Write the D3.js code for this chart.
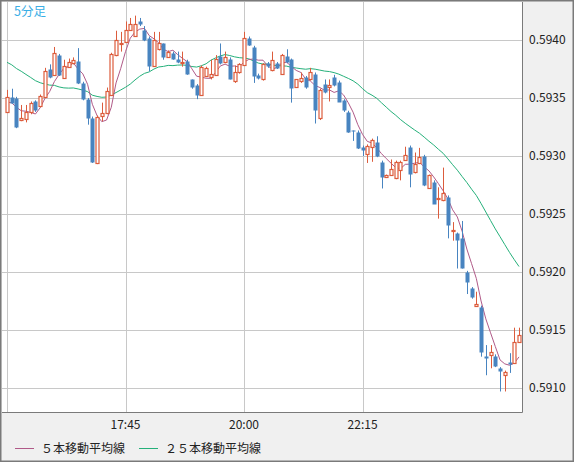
<!DOCTYPE html>
<html>
<head>
<meta charset="utf-8">
<script src="https://cdn.jsdelivr.net/npm/d3@7"></script>
<style>
  body { margin: 0; background: #f0f0f0; }
  svg { display: block; }
  text { font-family: "Noto Sans CJK JP", "DejaVu Sans", sans-serif; }
</style>
</head>
<body>
<div id="chart"></div>
<script>
// 5分足 OHLC
const opens = [0.59338,0.59351,0.59350,0.59331,0.59332,0.59338,0.59347,0.59343,0.59351,0.59375,
  0.59370,0.59387,0.59368,0.59377,0.59380,0.59382,0.59363,0.59349,0.59333,0.59294,
  0.59334,0.59337,0.59353,0.59387,0.59396,0.59399,0.59409,0.59404,0.59416,0.59409,
  0.59402,0.59378,0.59392,0.59397,0.59386,0.59389,0.59384,0.59380,0.59382,0.59366,
  0.59361,0.59353,0.59369,0.59368,0.59370,0.59386,0.59381,0.59384,0.59364,0.59372,
  0.59379,0.59402,0.59394,0.59370,0.59366,0.59380,0.59374,0.59380,0.59371,0.59386,
  0.59384,0.59359,0.59364,0.59368,0.59366,0.59371,0.59333,0.59362,0.59359,0.59368,
  0.59364,0.59348,0.59338,0.59322,0.59321,0.59308,0.59302,0.59308,0.59312,0.59295,
  0.59282,0.59284,0.59281,0.59288,0.59297,0.59308,0.59286,0.59294,0.59300,0.59273,
  0.59278,0.59263,0.59262,0.59265,0.59235,0.59234,0.59229,0.59200,0.59186,0.59170,
  0.59170,0.59128,0.59128,0.59128,0.59117,0.59111,0.59122,0.59122,0.59140];
const highs = [0.59357,0.59358,0.59351,0.59344,0.59344,0.59347,0.59348,0.59353,0.59376,0.59379,
  0.59394,0.59388,0.59383,0.59384,0.59385,0.59393,0.59364,0.59350,0.59334,0.59335,
  0.59346,0.59359,0.59389,0.59408,0.59407,0.59416,0.59419,0.59421,0.59419,0.59412,
  0.59403,0.59407,0.59407,0.59397,0.59391,0.59390,0.59390,0.59390,0.59383,0.59366,
  0.59362,0.59378,0.59377,0.59383,0.59387,0.59397,0.59390,0.59385,0.59378,0.59380,
  0.59407,0.59403,0.59395,0.59371,0.59380,0.59381,0.59390,0.59381,0.59388,0.59392,
  0.59384,0.59366,0.59372,0.59369,0.59376,0.59372,0.59358,0.59366,0.59366,0.59370,
  0.59365,0.59349,0.59339,0.59322,0.59322,0.59309,0.59310,0.59315,0.59317,0.59296,
  0.59284,0.59297,0.59296,0.59296,0.59308,0.59309,0.59303,0.59307,0.59301,0.59284,
  0.59279,0.59273,0.59290,0.59266,0.59243,0.59234,0.59244,0.59201,0.59187,0.59183,
  0.59171,0.59137,0.59137,0.59129,0.59118,0.59115,0.59130,0.59152,0.59152];
const lows = [0.59337,0.59345,0.59324,0.59330,0.59329,0.59336,0.59338,0.59342,0.59350,0.59367,
  0.59369,0.59369,0.59367,0.59376,0.59379,0.59362,0.59348,0.59327,0.59294,0.59293,
  0.59330,0.59336,0.59352,0.59386,0.59390,0.59398,0.59409,0.59403,0.59412,0.59399,
  0.59373,0.59378,0.59391,0.59383,0.59385,0.59383,0.59380,0.59377,0.59370,0.59358,
  0.59349,0.59353,0.59368,0.59366,0.59369,0.59379,0.59380,0.59366,0.59363,0.59371,
  0.59378,0.59395,0.59363,0.59366,0.59365,0.59376,0.59373,0.59375,0.59370,0.59380,
  0.59346,0.59359,0.59363,0.59358,0.59365,0.59328,0.59331,0.59354,0.59347,0.59360,
  0.59347,0.59338,0.59320,0.59313,0.59306,0.59300,0.59294,0.59295,0.59299,0.59272,
  0.59281,0.59283,0.59280,0.59279,0.59297,0.59273,0.59285,0.59293,0.59274,0.59272,
  0.59259,0.59246,0.59261,0.59229,0.59227,0.59203,0.59203,0.59181,0.59177,0.59170,
  0.59127,0.59111,0.59117,0.59118,0.59097,0.59097,0.59113,0.59122,0.59139];
const closes = [0.59351,0.59346,0.59325,0.59333,0.59338,0.59346,0.59339,0.59352,0.59373,0.59368,
  0.59389,0.59370,0.59378,0.59381,0.59383,0.59363,0.59349,0.59333,0.59295,0.59334,
  0.59337,0.59356,0.59388,0.59400,0.59397,0.59409,0.59414,0.59414,0.59413,0.59400,
  0.59378,0.59400,0.59397,0.59385,0.59390,0.59384,0.59381,0.59381,0.59371,0.59359,
  0.59352,0.59377,0.59376,0.59371,0.59384,0.59380,0.59385,0.59367,0.59372,0.59379,
  0.59402,0.59396,0.59369,0.59367,0.59379,0.59377,0.59383,0.59376,0.59387,0.59381,
  0.59359,0.59366,0.59367,0.59359,0.59372,0.59340,0.59357,0.59355,0.59361,0.59361,
  0.59347,0.59339,0.59321,0.59321,0.59307,0.59305,0.59309,0.59314,0.59300,0.59282,
  0.59284,0.59289,0.59295,0.59295,0.59301,0.59285,0.59293,0.59299,0.59275,0.59284,
  0.59259,0.59264,0.59268,0.59241,0.59236,0.59228,0.59203,0.59191,0.59178,0.59172,
  0.59131,0.59126,0.59131,0.59119,0.59114,0.59114,0.59120,0.59140,0.59146];
// closes before the visible window (needed for the moving averages), estimated
const priorCloses = [0.59400,0.59405,0.59392,0.59406,0.59412,0.59408,0.59396,0.59402,0.59390,0.59395,
  0.59404,0.59398,0.59386,0.59380,0.59384,0.59374,0.59366,0.59372,0.59360,0.59356,
  0.59350,0.59344,0.59348,0.59340];

const yTicks = [0.5910, 0.5915, 0.5920, 0.5925, 0.5930, 0.5935, 0.5940];
const xTickIndex = [0, 25, 50, 75];
const xTickLabels = ["", "17:45", "20:00", "22:15"];
const legendLabels = ["５本移動平均線", "２５本移動平均線"];

const W = 574, H = 462;
const plot = {left: 2, right: 522, top: 2, bottom: 412};
const upColor = "#dc5c3c", downColor = "#4884c0", ma5Color = "#b05a88", ma25Color = "#25b07a";

const svg = d3.select("#chart").append("svg").attr("width", W).attr("height", H);

svg.append("rect").attr("x", 0.5).attr("y", 0.5).attr("width", W - 1).attr("height", H - 1)
  .attr("fill", "#f0f0f0").attr("stroke", "#7a7a7a").attr("stroke-width", 2);
svg.append("rect").attr("x", plot.left).attr("y", plot.top)
  .attr("width", plot.right - plot.left).attr("height", plot.bottom - plot.top).attr("fill", "#fff");

const x = d3.scaleLinear().domain([0, closes.length - 1]).range([7, 519]);
const y = d3.scaleLinear().domain([0.5910, 0.5940]).range([388, 40]);

// grid
svg.append("g").selectAll("line").data(yTicks).join("line")
  .attr("x1", plot.left).attr("x2", plot.right)
  .attr("y1", d => Math.round(y(d)) + 0.5).attr("y2", d => Math.round(y(d)) + 0.5)
  .attr("stroke", "#c8c8c8");
svg.append("g").selectAll("line").data(xTickIndex).join("line")
  .attr("x1", d => Math.round(x(d)) + 0.5).attr("x2", d => Math.round(x(d)) + 0.5)
  .attr("y1", plot.top).attr("y2", plot.bottom)
  .attr("stroke", "#c8c8c8");

// plot frame
svg.append("path")
  .attr("d", `M${plot.right + 0.5},${plot.top} V${plot.bottom + 0.5} H${plot.left}`)
  .attr("fill", "none").attr("stroke", "#7a7a7a");

// moving averages
const all = priorCloses.concat(closes);
const off = priorCloses.length;
const sma = n => closes.map((c, i) => d3.mean(all.slice(off + i - n + 1, off + i + 1)));
const line = d3.line().x((d, i) => x(i)).y(d => y(d));

svg.append("path").datum(sma(25)).attr("d", line)
  .attr("fill", "none").attr("stroke", ma25Color).attr("stroke-width", 1);
svg.append("path").datum(sma(5)).attr("d", line)
  .attr("fill", "none").attr("stroke", ma5Color).attr("stroke-width", 1);

// candles
const up = (d, i) => d >= opens[i];
const candles = svg.append("g").selectAll("g").data(closes).join("g");
candles.append("line")
  .attr("x1", (d, i) => Math.round(x(i)) + 0.5).attr("x2", (d, i) => Math.round(x(i)) + 0.5)
  .attr("y1", (d, i) => y(highs[i])).attr("y2", (d, i) => y(lows[i]))
  .attr("stroke", (d, i) => up(d, i) ? upColor : downColor);
candles.append("rect")
  .attr("x", (d, i) => Math.round(x(i)) - (up(d, i) ? 1 : 1.5))
  .attr("y", (d, i) => Math.round(y(Math.max(d, opens[i]))) + 0.5)
  .attr("width", (d, i) => up(d, i) ? 3 : 4)
  .attr("height", (d, i) => Math.max(1, Math.round(Math.abs(y(d) - y(opens[i])))))
  .attr("fill", (d, i) => up(d, i) ? "#fff" : downColor)
  .attr("stroke", (d, i) => up(d, i) ? upColor : downColor)
  .attr("stroke-width", (d, i) => up(d, i) ? 1.2 : 0);

// axes labels
svg.append("g").selectAll("text").data(yTicks).join("text")
  .attr("x", 529).attr("y", d => y(d) + 4)
  .attr("font-size", 12).attr("fill", "#222")
  .text(d => d.toFixed(4));
svg.append("g").selectAll("text").data(xTickIndex).join("text")
  .attr("x", d => x(d)).attr("y", 429).attr("text-anchor", "middle")
  .attr("font-size", 12).attr("fill", "#222")
  .text((d, i) => xTickLabels[i]);

svg.append("text").attr("x", 14).attr("y", 16)
  .attr("font-size", 12.5).attr("fill", "#3aaee6").text("5分足");

// legend
const lg = svg.append("g").selectAll("g").data(legendLabels).join("g")
  .attr("transform", (d, i) => `translate(${i ? 139 : 15},448)`);
lg.append("line").attr("x1", 0).attr("x2", 19).attr("y1", 0.5).attr("y2", 0.5)
  .attr("stroke", (d, i) => i ? ma25Color : ma5Color);
lg.append("text").attr("x", 26).attr("y", 5).attr("font-size", 12).attr("fill", "#222")
  .text(d => d);
</script>
</body>
</html>
